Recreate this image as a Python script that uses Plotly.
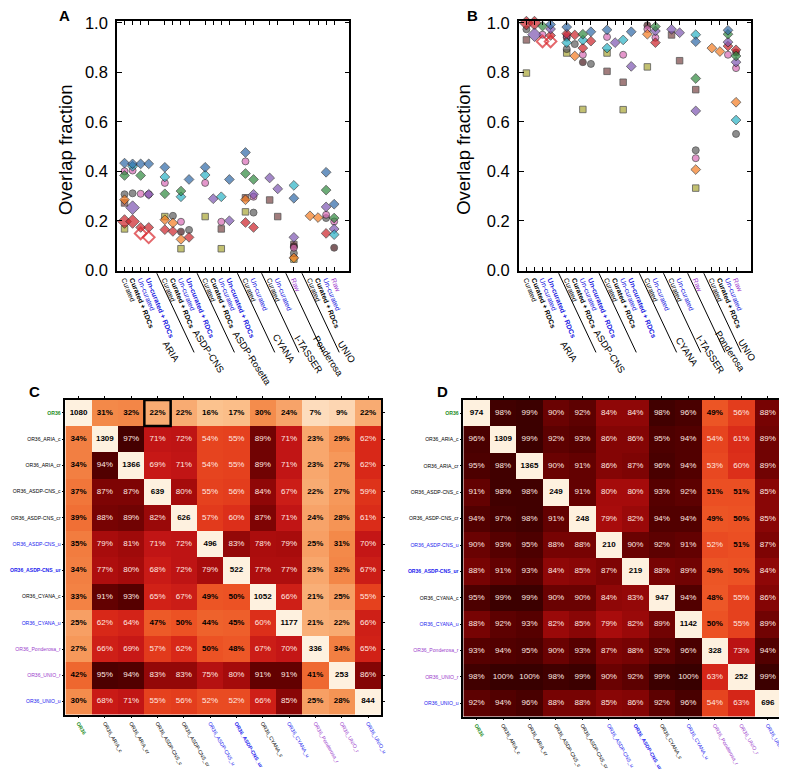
import plotly.graph_objects as go

W, H = 787, 770
PAGE_OFFSET = 8  # browser body margin in front of the figure
SX = (W - PAGE_OFFSET) / W
SY = (H - PAGE_OFFSET) / H
FONT = "Liberation Sans, Arial, Helvetica, sans-serif"

# ---------------- Panels A & B : overlap fractions ----------------
group_names_A = ["ARIA", "ASDP-CNS", "ASDP-Rosetta", "CYANA", "I-TASSER", "Ponderosa", "UNIO"]
group_names_B = ["ARIA", "ASDP-CNS", "", "CYANA", "I-TASSER", "Ponderosa", "UNIO"]
group_conditions = [
    ["Curated", "Curated + RDCs", "Un-curated", "Un-curated + RDCs"],
    ["Curated", "Curated + RDCs", "Un-curated", "Un-curated + RDCs"],
    ["Curated", "Curated + RDCs", "Un-curated", "Un-curated + RDCs"],
    ["Curated", "Un-curated"],
    ["Curated", "Un-curated"],
    ["Raw"],
    ["Curated", "Curated + RDCs", "Un-curated", "Raw"],
]

# values keyed by category slot (slot numbering follows group_conditions, one empty slot between groups)
A_blue = {0: 0.433, 1: 0.430, 2: 0.430, 3: 0.430, 5: 0.416, 8: 0.367, 10: 0.416, 13: 0.367, 15: 0.476, 21: 0.291, 25: 0.396, 26: 0.267}
A_green = {0: 0.383, 2: 0.383, 5: 0.309, 7: 0.320, 15: 0.391, 16: 0.367, 25: 0.324, 26: 0.211}
A_cyan = {1: 0.420, 5: 0.377, 7: 0.297, 10: 0.385, 12: 0.297, 21: 0.343, 26: 0.144}
A_purple = {1: 0.253, 3: 0.307, 11: 0.289, 13: 0.200, 16: 0.307, 18: 0.373, 19: 0.329, 21: 0.133, 25: 0.256, 26: 0.167}
A_orange = {0: 0.285, 5: 0.204, 6: 0.191, 7: 0.125, 15: 0.285, 21: 0.050, 23: 0.220, 24: 0.213}
A_red = {0: 0.197, 1: 0.197, 2: 0.173, 3: 0.173, 5: 0.164, 6: 0.157, 8: 0.133, 15: 0.193, 16: 0.173, 25: 0.149}
A_red_open = {2: 0.149, 3: 0.133}
A_grey = {0: 0.307, 1: 0.311, 6: 0.220, 8: 0.163, 16: 0.233, 21: 0.069, 25: 0.211}
A_pink = {0: 0.400, 1: 0.403, 2: 0.309, 3: 0.307, 5: 0.353, 7: 0.196, 10: 0.353, 12: 0.196, 15: 0.440, 16: 0.297, 21: 0.091, 25: 0.224, 26: 0.197}
A_maroon = {7: 0.156, 21: 0.097, 26: 0.091}
A_olive = {0: 0.167, 5: 0.217, 7: 0.087, 10: 0.217, 12: 0.087, 15: 0.236, 21: 0.045}
A_brown = {0: 0.272, 12: 0.167, 15: 0.293, 18: 0.284, 19: 0.217, 21: 0.104}

B_blue = {3: 0.993, 5: 0.983, 8: 0.964, 10: 0.972, 13: 0.964, 21: 0.924, 25: 0.970}
B_green = {2: 0.987, 7: 0.954, 16: 0.985, 21: 0.775, 25: 0.954, 26: 0.866}
B_cyan = {5: 0.920, 7: 0.930, 10: 0.898, 12: 0.931, 21: 0.952, 26: 0.607}
B_purple = {1: 0.952, 3: 0.975, 11: 0.920, 13: 0.824, 16: 0.967, 18: 0.974, 19: 0.960, 21: 0.644, 25: 0.922, 26: 0.841}
B_orange = {6: 0.866, 15: 0.954, 21: 0.407, 23: 0.898, 24: 0.884, 26: 0.679}
B_red = {0: 0.999, 1: 0.999, 3: 0.949, 5: 0.956, 6: 0.951, 7: 0.898, 8: 0.926, 16: 0.920, 25: 0.906, 26: 0.891}
B_red_open = {2: 0.925, 3: 0.925}
B_grey = {0: 0.974, 5: 0.894, 6: 0.914, 8: 0.834, 21: 0.485, 26: 0.551}
B_pink = {2: 0.952, 5: 0.947, 7: 0.871, 10: 0.943, 12: 0.871, 15: 0.975, 16: 0.940, 21: 0.453, 25: 0.871, 26: 0.817}
B_maroon = {5: 0.940, 7: 0.841, 15: 0.990, 26: 0.880}
B_olive = {0: 0.797, 5: 0.878, 7: 0.650, 10: 0.878, 12: 0.649, 15: 0.822, 21: 0.332}
B_brown = {0: 0.931, 10: 0.804, 12: 0.760, 18: 0.951, 19: 0.847, 21: 0.730}

series_A = [("olive", A_olive), ("brown", A_brown), ("grey", A_grey), ("maroon", A_maroon), ("pink", A_pink),
            ("orange", A_orange), ("red", A_red), ("red_open", A_red_open), ("purple", A_purple),
            ("cyan", A_cyan), ("green", A_green), ("blue", A_blue)]
series_B = [("olive", B_olive), ("brown", B_brown), ("grey", B_grey), ("maroon", B_maroon), ("pink", B_pink),
            ("orange", B_orange), ("red", B_red), ("red_open", B_red_open), ("purple", B_purple),
            ("cyan", B_cyan), ("green", B_green), ("blue", B_blue)]

# ---------------- Panels C & D : pairwise overlap matrices ----------------
hm_labels = ["OR36", "OR36_ARIA_c", "OR36_ARIA_cr", "OR36_ASDP-CNS_c", "OR36_ASDP-CNS_cr",
             "OR36_ASDP-CNS_u", "OR36_ASDP-CNS_ur", "OR36_CYANA_c", "OR36_CYANA_u",
             "OR36_Ponderosa_r", "OR36_UNIO_r", "OR36_UNIO_u"]
C_matrix = [
    [1080, 31, 32, 22, 22, 16, 17, 30, 24, 7, 9, 22],
    [34, 1309, 97, 71, 72, 54, 55, 89, 71, 23, 29, 62],
    [34, 94, 1366, 69, 71, 54, 55, 89, 71, 23, 27, 62],
    [37, 87, 87, 639, 80, 55, 56, 84, 67, 22, 27, 59],
    [39, 88, 89, 82, 626, 57, 60, 87, 71, 24, 28, 61],
    [35, 79, 81, 71, 72, 496, 83, 78, 79, 25, 31, 70],
    [34, 77, 80, 68, 72, 79, 522, 77, 77, 23, 32, 67],
    [33, 91, 93, 65, 67, 49, 50, 1052, 66, 21, 25, 55],
    [25, 62, 64, 47, 50, 44, 45, 60, 1177, 21, 22, 66],
    [27, 66, 69, 57, 62, 50, 48, 67, 70, 336, 34, 65],
    [42, 95, 94, 83, 83, 75, 80, 91, 91, 41, 253, 86],
    [30, 68, 71, 55, 56, 52, 52, 66, 85, 25, 28, 844],
]
D_matrix = [
    [974, 98, 99, 90, 92, 84, 84, 98, 96, 49, 56, 88],
    [96, 1309, 99, 92, 93, 86, 86, 95, 94, 54, 61, 89],
    [95, 98, 1365, 90, 91, 86, 87, 96, 94, 53, 60, 89],
    [91, 98, 98, 249, 91, 80, 80, 93, 92, 51, 51, 85],
    [94, 97, 98, 91, 248, 79, 82, 94, 94, 49, 50, 85],
    [90, 93, 95, 88, 88, 210, 90, 92, 91, 52, 51, 87],
    [88, 91, 93, 84, 85, 87, 219, 88, 89, 49, 50, 84],
    [95, 99, 99, 90, 90, 84, 83, 947, 94, 48, 55, 86],
    [88, 92, 93, 82, 85, 79, 82, 89, 1142, 50, 55, 89],
    [93, 94, 95, 90, 93, 87, 88, 92, 96, 328, 73, 94],
    [98, 100, 100, 98, 99, 90, 92, 99, 100, 63, 252, 99],
    [92, 94, 96, 88, 88, 85, 86, 92, 96, 54, 63, 696],
]
highlight_C = (0, 3)  # (row, col)

# ---------------- styling ----------------
STYLE = {
    "blue": ("diamond", "#2f69a8"), "green": ("diamond", "#2f8a3e"), "cyan": ("diamond", "#2ab3c6"),
    "purple": ("diamond", "#7d55b2"), "orange": ("diamond", "#f47b20"), "red": ("diamond", "#cc2229"),
    "red_open": ("diamond-open", "#d8262c"), "grey": ("circle", "#5e5e5e"), "pink": ("circle", "#d96bb6"),
    "maroon": ("circle", "#4a1a1e"), "olive": ("square", "#a9a634"), "brown": ("square", "#7a4545"),
}
BASE_SIZE = {"diamond": 7.5, "diamond-open": 9, "circle": 7, "square": 6.5}
BIG = {"red": [0, 1], "purple": [1]}

LABEL_COLOR = {"OR36": "#1e8c1e", "OR36_ASDP-CNS_u": "#2222ee", "OR36_ASDP-CNS_ur": "#2222ee",
               "OR36_CYANA_u": "#2222ee", "OR36_UNIO_u": "#2222ee",
               "OR36_Ponderosa_r": "#9a3ccc", "OR36_UNIO_r": "#9a3ccc"}
LABEL_BOLD = {"OR36", "OR36_ASDP-CNS_ur"}

COLORSCALE = [
    [0.0, "#fef1df"], [0.07, "#fddcbc"], [0.16, "#fbc28e"], [0.22, "#f8ab72"], [0.30, "#f48c4c"],
    [0.40, "#ef6c32"], [0.50, "#ec5224"], [0.57, "#e23a1c"], [0.62, "#d82818"], [0.70, "#c41616"],
    [0.80, "#a50b0b"], [0.87, "#7e0404"], [0.93, "#560000"], [1.0, "#380000"],
]

# pixel centres (in the screenshot) of the rotated group names under panels A and B
GROUP_POS_A = [(165, 347), (203, 347), (247, 354), (279, 344), (304, 350), (324, 352), (342, 347)]
GROUP_POS_B = [(567, 347), (608, 347), None, (686, 347), (710, 350), (730, 347), (747, 346)]


def px_x(p):
    return p * SX / W


def px_y(p):
    return 1 - p * SY / H


# build category slots
slots, slot_labels, gaps = [], [], []
s = 0
for gi, conds in enumerate(group_conditions):
    for c in conds:
        slots.append(s)
        slot_labels.append(c)
        s += 1
    if gi < len(group_conditions) - 1:
        gaps.append(s)
        s += 1


def cond_html(c):
    if c == "Raw":
        return "<span style='color:#a040d0'>Raw</span>"
    txt = f"<b>{c}</b>" if "RDCs" in c else c
    if c.startswith("Un-curated"):
        return f"<span style='color:#1515e0'>{txt}</span>"
    return txt


def hm_html(lbl):
    col = LABEL_COLOR.get(lbl, "#000000")
    t = f"<b>{lbl}</b>" if lbl in LABEL_BOLD else lbl
    return f"<span style='color:{col}'>{t}</span>"


fig = go.Figure()

XR = [-0.95, 27.9]
YR = [-0.004, 1.008]
panels_AB = [("x", "y", series_A), ("x2", "y2", series_B)]
for xa, ya, series in panels_AB:
    for name, data in series:
        sym, col = STYLE[name]
        xs = list(data.keys())
        ys = list(data.values())
        sizes = [BASE_SIZE[sym] + (3 if x in BIG.get(name, []) else 0) for x in xs]
        if sym.endswith("open"):
            marker = dict(symbol=sym, size=sizes, color=col, line=dict(color=col, width=2))
        else:
            marker = dict(symbol=sym, size=sizes, color=col, line=dict(color="#151515", width=0.8))
        fig.add_trace(go.Scatter(x=xs, y=ys, mode="markers", marker=marker, xaxis=xa, yaxis=ya,
                                 showlegend=False, hoverinfo="skip", cliponaxis=False))

# heatmaps
hm_panels = [("x3", "y3", C_matrix), ("x4", "y4", D_matrix)]
for xa, ya, M in hm_panels:
    n = len(M)
    z = [[0 if i == j else M[i][j] / 100 for j in range(n)] for i in range(n)]
    fig.add_trace(go.Heatmap(z=z, x=list(range(n)), y=list(range(n)), colorscale=COLORSCALE,
                             zmin=0, zmax=1, showscale=False, xaxis=xa, yaxis=ya, hoverinfo="skip"))
    tx, ty, tt, tc = [], [], [], []
    for i in range(n):
        for j in range(n):
            v = M[i][j]
            tx.append(j)
            ty.append(i)
            if i == j:
                tt.append(f"<b>{v}</b>")
                tc.append("#000000")
            elif v > 51:
                tt.append(f"{v}%")
                tc.append("#ffe8e0")
            else:
                tt.append(f"<b>{v}%</b>")
                tc.append("#000000")
    fig.add_trace(go.Scatter(x=tx, y=ty, text=tt, mode="text", xaxis=xa, yaxis=ya,
                             textfont=dict(size=8, color=tc, family=FONT),
                             showlegend=False, hoverinfo="skip"))

# layout geometry (screenshot pixels)
A_box = (110, 345, 13, 266)
B_box = (516, 751, 13, 266)
C_box = (58, 377, 396, 714)
D_box = (460, 781, 396, 716)


def dom(box):
    x0, x1, y0, y1 = box
    return [px_x(x0), px_x(x1)], [px_y(y1), px_y(y0)]


common_ax = dict(showline=True, linecolor="black", linewidth=1.5, showgrid=False, zeroline=False,
                 ticks="inside", tickcolor="black", mirror="ticks", automargin=False)

layout = dict(width=W, height=H, margin=dict(l=0, r=0, t=0, b=0, pad=0, autoexpand=False),
              paper_bgcolor="white", plot_bgcolor="white", template="none",
              font=dict(family=FONT, color="black"), showlegend=False)

for k, box in (("", A_box), ("2", B_box)):
    xd, yd = dom(box)
    layout["xaxis" + k] = dict(domain=xd, range=XR, tickvals=slots,
                               ticktext=[cond_html(c) for c in slot_labels], tickangle=68,
                               tickfont=dict(size=7, family=FONT), ticklen=4, anchor="y" + k, **common_ax)
    layout["yaxis" + k] = dict(domain=yd, range=YR, tickvals=[0, 0.2, 0.4, 0.6, 0.8, 1.0],
                               tickformat=".1f", tickfont=dict(size=16.5, family=FONT), ticklen=5,
                               ticklabelstandoff=4, anchor="x" + k, **common_ax)

hm_ax = dict(showline=True, linecolor="black", linewidth=1.5, showgrid=False, zeroline=False,
             ticks="outside", ticklen=2, tickcolor="black", mirror="ticks", automargin=False)
for k, box in (("3", C_box), ("4", D_box)):
    xd, yd = dom(box)
    layout["xaxis" + k] = dict(domain=xd, range=[-0.5, 11.5], tickvals=list(range(12)),
                               ticktext=[hm_html(l) for l in hm_labels], tickangle=60,
                               tickfont=dict(size=5.2, family=FONT), anchor="y" + k, **hm_ax)
    layout["yaxis" + k] = dict(domain=yd, range=[11.5, -0.5], tickvals=list(range(12)),
                               ticktext=[hm_html(l) for l in hm_labels],
                               tickfont=dict(size=5.1, family=FONT), anchor="x" + k, **hm_ax)

fig.update_layout(**layout)

# annotations
ann = []
for letter, (x, y) in (("A", (57, 8)), ("B", (469, 8)), ("C", (27, 388)), ("D", (439, 388))):
    ann.append(dict(text=f"<b>{letter}</b>", x=px_x(x), y=px_y(y), xref="paper", yref="paper",
                    xanchor="center", yanchor="middle", showarrow=False, font=dict(size=15, family=FONT)))
for x in (58, 460):
    ann.append(dict(text="Overlap fraction", x=px_x(x), y=px_y(143), xref="paper", yref="paper",
                    xanchor="center", yanchor="middle", showarrow=False, textangle=-90,
                    font=dict(size=18.5, family=FONT)))

shapes = []
LINE_DX, LINE_Y0, LINE_Y1 = 37.7, 268, 348
for box, names, pos in ((A_box, group_names_A, GROUP_POS_A), (B_box, group_names_B, GROUP_POS_B)):
    x0, x1 = box[0], box[1]

    def sx(slot):
        return x0 + (slot - XR[0]) / (XR[1] - XR[0]) * (x1 - x0)

    for g in gaps:
        gx = sx(g)
        shapes.append(dict(type="line", xref="paper", yref="paper", x0=px_x(gx), y0=px_y(LINE_Y0),
                           x1=px_x(gx + LINE_DX), y1=px_y(LINE_Y1), line=dict(color="black", width=1)))
    for nm, p in zip(names, pos):
        if not nm or p is None:
            continue
        ann.append(dict(text=nm, x=px_x(p[0]), y=px_y(p[1]), xref="paper", yref="paper", showarrow=False,
                        xanchor="center", yanchor="middle", textangle=57, font=dict(size=9.5, family=FONT)))

r, c = highlight_C
shapes.append(dict(type="rect", xref="x3", yref="y3", x0=c - 0.5, x1=c + 0.5, y0=r - 0.5, y1=r + 0.5,
                   line=dict(color="black", width=2.5)))

fig.update_layout(annotations=ann, shapes=shapes)
fig.write_html("out.html")
